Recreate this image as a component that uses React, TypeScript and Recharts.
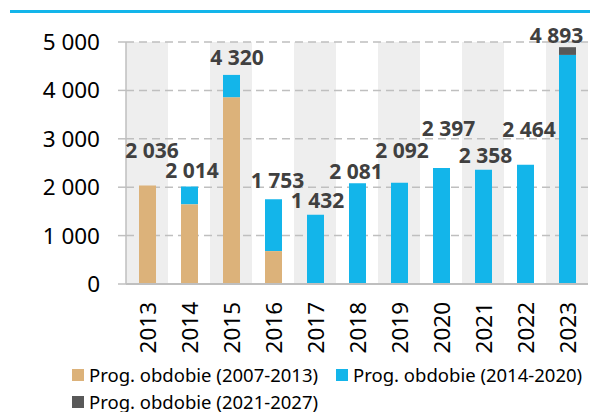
import type React from "react";
import { Bar, BarChart, CartesianGrid, LabelList, ReferenceArea, XAxis, YAxis } from "recharts";

// categories
const YEARS = ["2013", "2014", "2015", "2016", "2017", "2018", "2019", "2020", "2021", "2022", "2023"];

// series values (EUR mil.)
const PERIOD_2007_2013 = [2036, 1650, 3860, 680, 0, 0, 0, 0, 0, 0, 0];
const PERIOD_2014_2020 = [0, 364, 460, 1073, 1432, 2081, 2092, 2397, 2358, 2464, 4733];
const PERIOD_2021_2027 = [0, 0, 0, 0, 0, 0, 0, 0, 0, 0, 160];
const TOTALS = [2036, 2014, 4320, 1753, 1432, 2081, 2092, 2397, 2358, 2464, 4893];

const Y_TICKS = [0, 1000, 2000, 3000, 4000, 5000];
const SERIES_NAMES = ["Prog. obdobie (2007-2013)", "Prog. obdobie (2014-2020)", "Prog. obdobie (2021-2027)"];

// label nudges, as placed by hand in the original
const LABEL_DX = [4.5, 2.5, 5.5, 4, 2, -1.5, 2.5, 7, 2, 3.5, -11];
const LABEL_LIFT = [35, 16.7, 18.3, 19.3, 14.3, 12.5, 32.5, 40, 14.6, 35.5, 12.2];

const COLORS = ["#DCB27A", "#13B5EA", "#595959"];
const FONT = "'Noto Sans', sans-serif";

const SHADED_YEARS = YEARS.filter((_, i) => i % 2 === 0);

const fmt = (v: number) => String(v).replace(/\B(?=(\d{3})+(?!\d))/g, " ");

const data = YEARS.map((year, i) => ({
	year,
	p1: PERIOD_2007_2013[i],
	p2: PERIOD_2014_2020[i],
	p3: PERIOD_2021_2027[i],
	total: TOTALS[i],
}));

function YearTick(props: any): React.ReactElement {
	const { x, y, payload } = props;
	return (
		<text
			x={x}
			y={y}
			transform={`rotate(-90, ${x}, ${y})`}
			textAnchor="end"
			dominantBaseline="central"
			fontSize={22.5}
			fontFamily={FONT}
			fill="#000"
		>
			{payload.value}
		</text>
	);
}

function TotalLabel(props: any): React.ReactElement | null {
	const { x, y, width, index, value } = props;
	if (index == null) return null;
	return (
		<text
			x={Number(x) + Number(width) / 2 + LABEL_DX[index]}
			y={Number(y) - LABEL_LIFT[index]}
			textAnchor="middle"
			dominantBaseline="central"
			fontSize={21}
			fontWeight="bold"
			fontFamily={FONT}
			fill="#404040"
		>
			{fmt(Number(value))}
		</text>
	);
}

function LegendItem({ color, text }: { color: string; text: string }): React.ReactElement {
	return (
		<div style={{ display: "flex", alignItems: "center", height: 27 }}>
			<span style={{ width: 12, height: 12, background: color, marginRight: 5 }} />
			<span style={{ fontSize: 18.5, lineHeight: "22px", fontFamily: FONT, color: "#000", whiteSpace: "nowrap" }}>
				{text}
			</span>
		</div>
	);
}

export default function App(): React.ReactElement {
	return (
		<div style={{ position: "absolute", left: 0, top: 0, width: 590, height: 412, background: "#fff", overflow: "hidden" }}>
			<div style={{ position: "absolute", left: 10, top: 10, width: 580, height: 3, background: "#13B5EA" }} />
			<BarChart
				width={590}
				height={362}
				data={data}
				margin={{ top: 42, right: 2, left: 0, bottom: 0 }}
				barSize={17}
			>
				{SHADED_YEARS.map((yr) => (
					<ReferenceArea
						key={yr}
						x1={yr}
						x2={yr}
						y1={0}
						y2={5000}
						fill="#EEEEEE"
						fillOpacity={1}
						stroke="none"
						zIndex={-150}
					/>
				))}
				<CartesianGrid vertical={false} stroke="#BFBFBF" strokeWidth={1.5} strokeDasharray="8 5" />
				<XAxis
					dataKey="year"
					height={78}
					interval={0}
					tickLine={false}
					tickSize={0}
					tickMargin={18}
					axisLine={{ stroke: "#BFBFBF", strokeWidth: 2 }}
					tick={<YearTick />}
				/>
				<XAxis xAxisId="totals" dataKey="year" hide />
				<YAxis
					width={126}
					domain={[0, 5000]}
					ticks={Y_TICKS}
					tickFormatter={fmt}
					tickSize={8}
					tickMargin={18}
					tickLine={{ stroke: "#BFBFBF", strokeWidth: 1.5 }}
					axisLine={{ stroke: "#BFBFBF", strokeWidth: 1.5 }}
					tick={{ fontSize: 22.5, fill: "#000", fontFamily: FONT }}
				/>
				<Bar dataKey="p1" stackId="a" fill={COLORS[0]} isAnimationActive={false} />
				<Bar dataKey="p2" stackId="a" fill={COLORS[1]} isAnimationActive={false} />
				<Bar dataKey="p3" stackId="a" fill={COLORS[2]} isAnimationActive={false} />
				<Bar dataKey="total" xAxisId="totals" fill="transparent" isAnimationActive={false}>
					<LabelList dataKey="total" content={<TotalLabel />} />
				</Bar>
			</BarChart>
			<div style={{ position: "absolute", left: 72, top: 361, width: 520 }}>
				<div style={{ display: "flex", gap: 18 }}>
					<LegendItem color={COLORS[0]} text={SERIES_NAMES[0]} />
					<LegendItem color={COLORS[1]} text={SERIES_NAMES[1]} />
				</div>
				<LegendItem color={COLORS[2]} text={SERIES_NAMES[2]} />
			</div>
		</div>
	);
}
